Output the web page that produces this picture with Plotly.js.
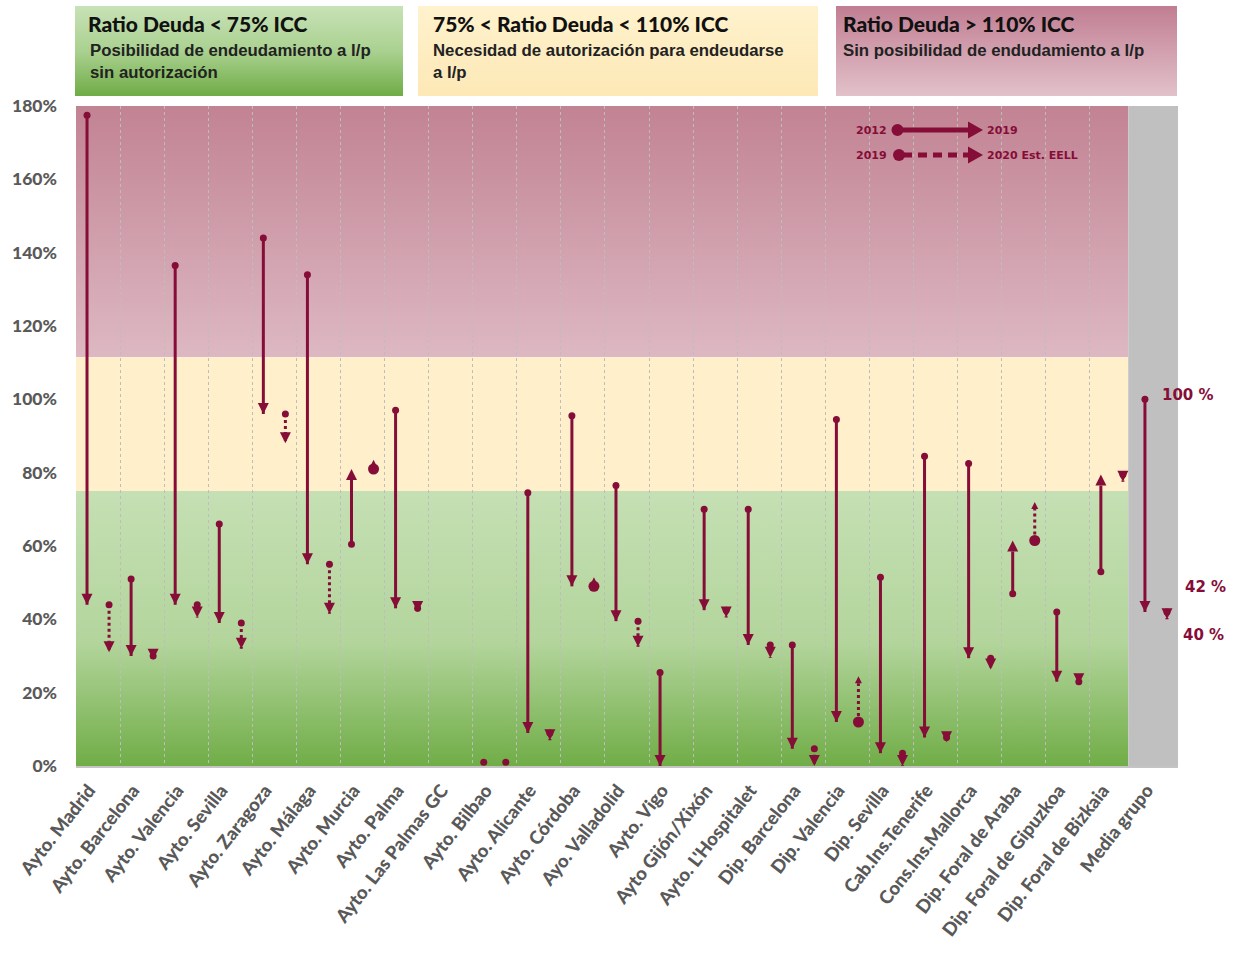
<!DOCTYPE html>
<html><head><meta charset="utf-8">
<script src="https://cdn.plot.ly/plotly-3.0.1.min.js"></script>
<style>body{margin:0;background:#fff}#chart{width:1238px;height:958px}</style>
</head><body><div id="chart"></div>
<script>
// ---------- DATA ----------
const categories = ['Ayto. Madrid','Ayto. Barcelona','Ayto. Valencia','Ayto. Sevilla','Ayto. Zaragoza','Ayto. Málaga','Ayto. Murcia','Ayto. Palma','Ayto. Las Palmas GC','Ayto. Bilbao','Ayto. Alicante','Ayto. Córdoba','Ayo. Valladolid','Ayto. Vigo','Ayto Gijón/Xixón',"Ayto. L'Hospitalet",'Dip. Barcelona','Dip. Valencia','Dip. Sevilla','Cab.Ins.Tenerife','Cons.Ins.Mallorca','Dip. Foral de Araba','Dip. Foral de Gipuzkoa','Dip. Foral de Bizkaia','Media grupo'];
const ratio2012 = [177.5, 51, 136.5, 66, 144, 134, 60.5, 97, null, 1, 74.5, 95.5, 76.5, 25.5, 70, 70, 33, 94.5, 51.5, 84.5, 82.5, 47, 42, 53, 100];
const ratio2019 = [44, 30, 44, 39, 96, 55, 81, 43, null, 1, 9, 49, 39.5, 0, 42.5, 33, 4.7, 12, 3.5, 7.8, 29.4, 61.5, 23, 79.5, 42];
const ratio2020 = [31, 29, 40.5, 32, 88, 41.5, 83.5, 42, null, 1, 7, 51.5, 32.5, null, 40.5, 29.5, 0, 24.5, 0, 6.5, 26.3, 72, 22.3, 77.5, 40];
const yTickVals = [0, 20, 40, 60, 80, 100, 120, 140, 160, 180];
const yTickText = yTickVals.map(v => v + '%');
const limitLow = 75;      // Ratio Deuda 75% ICC
const limitHigh = 111.5;  // drawn boundary of 110% zone
const zoneTitles = ['Ratio Deuda < 75% ICC', '75% < Ratio Deuda < 110% ICC', 'Ratio Deuda > 110% ICC'];
const zoneTexts = ['Posibilidad de endeudamiento a l/p<br>sin autorización', 'Necesidad de autorización para endeudarse<br>a l/p', 'Sin posibilidad de endudamiento a l/p'];
const legendLabels = ['2012', '2019', '2019', '2020 Est. EELL'];

// ---------- STYLE / LAYOUT ----------
const ARROW = '#850d37';
const W = 1238, H = 958, ML = 76, MR = 60, MT = 106, MB = 192;
const PW = W - ML - MR, PH = H - MT - MB;
const px = x => (x - ML) / PW;
const py = y => (H - MB - y) / PH;
const n = categories.length;
const mediaStart = n - 1 - 0.63;

function gradURI(stops) {
  const s = stops.map(([o, c]) => `<stop offset="${o}" stop-color="${c}"/>`).join('');
  const svg = `<svg xmlns="http://www.w3.org/2000/svg" width="100" height="100" viewBox="0 0 100 100" preserveAspectRatio="none"><defs><linearGradient id="g" x1="0" y1="0" x2="0" y2="1">${s}</linearGradient></defs><rect width="100" height="100" fill="url(#g)"/></svg>`;
  return 'data:image/svg+xml;base64,' + btoa(svg);
}
const redGrad = gradURI([[0, '#c28393'], [1, '#ddb8c3']]);
const greenGrad = gradURI([[0, '#c5e0b4'], [0.55, '#b3d59c'], [1, '#70ad47']]);
const box1Grad = gradURI([[0, '#c8e2b7'], [0.5, '#aad190'], [1, '#6fac46']]);
const box2Grad = gradURI([[0, '#fff2cd'], [1, '#fde8b6']]);
const box3Grad = gradURI([[0, '#c17e92'], [1, '#e2c1cb']]);

function arrowTrace(startArr, endArr, offset, dashed) {
  const xs = [], ys = [], sym = [], size = [];
  categories.forEach((c, i) => {
    const a = startArr[i], b = endArr[i];
    if (a == null || b == null) return;
    const x = i + offset;
    if (a === b) { xs.push(x, null); ys.push(a, null); sym.push('circle', 'circle'); size.push(7, 0); return; }
    const up = b > a;
    const big = dashed && up;
    xs.push(x, x, null); ys.push(a, b, null);
    sym.push('circle', up ? 'arrow-up' : 'arrow-down', 'circle');
    size.push(big ? 11 : 7, big ? 7 : 11, 0);
  });
  return {
    type: 'scatter', mode: 'lines+markers', x: xs, y: ys, xaxis: 'x2', yaxis: 'y',
    line: { color: ARROW, width: 3, dash: dashed ? 'dot' : 'solid' },
    marker: { symbol: sym, size: size, color: ARROW, opacity: 1, line: { width: 0 } },
    hoverinfo: 'skip', showlegend: false
  };
}

const traces = [arrowTrace(ratio2012, ratio2019, -0.25, false), arrowTrace(ratio2019, ratio2020, 0.25, true)];

const boxes = [[75, 403, box1Grad], [418, 818, box2Grad], [836, 1177, box3Grad]];
const images = [
  { source: redGrad, xref: 'x', yref: 'y', x: -0.5, y: 180, sizex: mediaStart + 0.5, sizey: 180 - limitHigh, sizing: 'stretch', xanchor: 'left', yanchor: 'top', layer: 'below' },
  { source: greenGrad, xref: 'x', yref: 'y', x: -0.5, y: limitLow, sizex: mediaStart + 0.5, sizey: limitLow, sizing: 'stretch', xanchor: 'left', yanchor: 'top', layer: 'below' }
];
boxes.forEach(([x0, x1, g]) => images.push({ source: g, xref: 'paper', yref: 'paper', x: px(x0), y: py(6), sizex: px(x1) - px(x0), sizey: py(6) - py(96), sizing: 'stretch', xanchor: 'left', yanchor: 'top', layer: 'above' }));

const shapes = [
  { type: 'rect', xref: 'x', yref: 'y', x0: -0.5, x1: mediaStart, y0: limitLow, y1: limitHigh, fillcolor: '#fff0cb', line: { width: 0 }, layer: 'below' },
  { type: 'rect', xref: 'x', yref: 'y', x0: mediaStart, x1: n - 0.5, y0: 0, y1: 180, fillcolor: '#c0c0c0', line: { width: 0 }, layer: 'below' }
];
// legend symbols
[[130, 'solid', 897.5], [155, '9px,6px', 899]].forEach(([yy, d, cx]) => {
  shapes.push({ type: 'line', xref: 'paper', yref: 'paper', x0: px(cx + 4), x1: px(968), y0: py(yy), y1: py(yy), line: { color: ARROW, width: 5, dash: d } });
  shapes.push({ type: 'circle', xref: 'paper', yref: 'paper', xsizemode: 'pixel', ysizemode: 'pixel', xanchor: px(cx), yanchor: py(yy), x0: -6, x1: 6, y0: -6, y1: 6, fillcolor: ARROW, line: { width: 0 } });
  shapes.push({ type: 'path', xref: 'paper', yref: 'paper', xsizemode: 'pixel', ysizemode: 'pixel', xanchor: px(983), yanchor: py(yy), path: 'M0,0 L-15,8.5 L-15,-8.5 Z', fillcolor: ARROW, line: { width: 0 } });
});

const titleFont = { family: 'Lato', size: 21, color: '#111', weight: 900 };
const subFont = { family: 'Liberation Sans', size: 16.8, color: '#222', weight: 'bold' };
const legFont = { family: 'DejaVu Sans', size: 11, color: ARROW, weight: 'bold' };
const valFont = { family: 'DejaVu Sans', size: 15, color: ARROW, weight: 'bold' };
const annotations = [];
[[86, 88], [431, 431], [841, 841]].forEach(([tx, sx], k) => {
  annotations.push({ xref: 'paper', yref: 'paper', x: px(tx), y: py(23), xanchor: 'left', yanchor: 'middle', text: zoneTitles[k], showarrow: false, font: titleFont });
  annotations.push({ xref: 'paper', yref: 'paper', x: px(sx), y: py(39), xanchor: 'left', yanchor: 'top', align: 'left', text: zoneTexts[k], showarrow: false, font: subFont });
});
annotations.push({ xref: 'paper', yref: 'paper', x: px(889), y: py(130), xanchor: 'right', yanchor: 'middle', text: legendLabels[0], showarrow: false, font: legFont });
annotations.push({ xref: 'paper', yref: 'paper', x: px(985), y: py(130), xanchor: 'left', yanchor: 'middle', text: legendLabels[1], showarrow: false, font: legFont });
annotations.push({ xref: 'paper', yref: 'paper', x: px(889), y: py(155), xanchor: 'right', yanchor: 'middle', text: legendLabels[2], showarrow: false, font: legFont });
annotations.push({ xref: 'paper', yref: 'paper', x: px(985), y: py(155), xanchor: 'left', yanchor: 'middle', text: legendLabels[3], showarrow: false, font: legFont });
const last = n - 1;
[[ratio2012[last], 32, 4], [ratio2019[last], 50, 25], [ratio2020[last], 48, -16]].forEach(([v, xs, ys]) => {
  annotations.push({ xref: 'x2', yref: 'y', x: last, y: v, xshift: xs, yshift: ys, text: v + ' %', showarrow: false, font: valFont });
});

const layout = {
  width: W, height: H, margin: { l: ML, r: MR, t: MT, b: MB },
  paper_bgcolor: '#fff', plot_bgcolor: 'rgba(0,0,0,0)', showlegend: false,
  xaxis: { range: [-0.5, n - 0.5], tickmode: 'linear', tick0: -0.5, dtick: 1, showticklabels: false, ticks: '',
    showgrid: true, gridcolor: '#bdbdbd', gridwidth: 1, griddash: '3px,3px', zeroline: false,
    showline: true, linecolor: '#c4c4c4', linewidth: 2, fixedrange: true },
  xaxis2: { overlaying: 'x', anchor: 'y', side: 'bottom', range: [-0.5, n - 0.5], tickmode: 'array',
    tickvals: categories.map((c, i) => i), ticktext: categories, tickangle: -52, ticks: '',
    ticklabelstandoff: 9, ticklabelshift: -9,
    tickfont: { family: 'Lato', size: 18.5, color: '#595959', weight: 900 },
    showgrid: false, zeroline: false, showline: false, fixedrange: true },
  yaxis: { range: [0, 180], tickmode: 'array', tickvals: yTickVals, ticktext: yTickText, ticks: '',
    tickfont: { family: 'Lato', size: 17.5, color: '#595959', weight: 900 }, ticklabelstandoff: 18,
    showgrid: false, zeroline: false, showline: false, fixedrange: true },
  images: images, shapes: shapes, annotations: annotations
};
Plotly.newPlot('chart', traces, layout, { displayModeBar: false, staticPlot: true });
</script></body></html>
